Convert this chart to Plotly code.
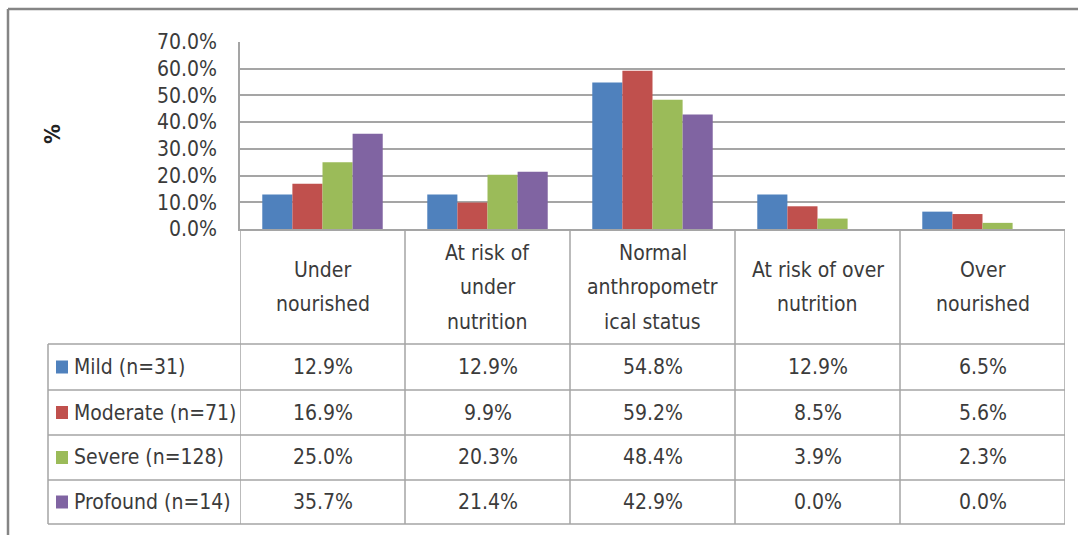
import plotly.graph_objects as go

# Nutritional status by severity group (percent of each group)
categories = ["Under nourished", "At risk of under nutrition", "Normal anthropometrical status",
              "At risk of over nutrition", "Over nourished"]
header_lines = [["Under", "nourished"], ["At risk of", "under", "nutrition"],
                ["Normal", "anthropometr", "ical status"], ["At risk of over", "nutrition"],
                ["Over", "nourished"]]
series_names = ["Mild (n=31)", "Moderate (n=71)", "Severe (n=128)", "Profound (n=14)"]
mild = [12.9, 12.9, 54.8, 12.9, 6.5]
moderate = [16.9, 9.9, 59.2, 8.5, 5.6]
severe = [25.0, 20.3, 48.4, 3.9, 2.3]
profound = [35.7, 21.4, 42.9, 0.0, 0.0]
series_values = [mild, moderate, severe, profound]
colors = ["#4F81BD", "#C0504D", "#9BBB59", "#8064A2"]
y_ticks = [0, 10, 20, 30, 40, 50, 60, 70]
y_tick_labels = [f"{v:.1f}%" for v in y_ticks]

W, H = 1078, 535
PL, PR, PT, PB = 240, 1065, 42, 229          # plot area in pixels
TABLE_LEFT = 48
ROW_LINES = [344, 390, 435, 480, 524]        # horizontal rules of the data table
HEADER_MID = (PB + ROW_LINES[0]) / 2 + 0.5
HEADER_LINE_STEP = 34.5

FONT = "Liberation Sans Narrow, Arial Narrow, DejaVu Sans Condensed, sans-serif"
FS = 21
TXT = "#3b3b3b"
GRID = "#A5A5A5"


def px(xp):
    return (xp - PL) / (PR - PL)


def py(yp):
    return (PB - yp) / (PB - PT)


fig = go.Figure()
for name, vals, col in zip(series_names, series_values, colors):
    fig.add_trace(go.Bar(x=categories, y=vals, name=name, marker=dict(color=col, line=dict(width=0))))

shapes = []
# outer chart frame (top and left edges)
shapes.append(dict(type="line", xref="paper", yref="paper", x0=px(8), x1=px(1080), y0=py(9), y1=py(9),
                   line=dict(color="#858585", width=2.5)))
shapes.append(dict(type="line", xref="paper", yref="paper", x0=px(8), x1=px(8), y0=py(9), y1=py(540),
                   line=dict(color="#858585", width=2.5)))
# vertical table rules at category boundaries
for i in range(len(categories) + 1):
    shapes.append(dict(type="line", xref="x", yref="paper", x0=i - 0.5, x1=i - 0.5,
                       y0=py(PB), y1=py(ROW_LINES[-1]), line=dict(color=GRID, width=1.5)))
# left edge of the legend column
shapes.append(dict(type="line", xref="paper", yref="paper", x0=px(TABLE_LEFT), x1=px(TABLE_LEFT),
                   y0=py(ROW_LINES[0]), y1=py(ROW_LINES[-1]), line=dict(color=GRID, width=1.5)))
# horizontal table rules
for r in ROW_LINES:
    shapes.append(dict(type="line", xref="paper", yref="paper", x0=px(TABLE_LEFT), x1=1,
                       y0=py(r), y1=py(r), line=dict(color=GRID, width=1.5)))

annotations = []
# header row with category names, one annotation per text line
for cat, lines in zip(categories, header_lines):
    n = len(lines)
    for j, line in enumerate(lines):
        yc = HEADER_MID + (j - (n - 1) / 2) * HEADER_LINE_STEP
        annotations.append(dict(x=cat, xref="x", y=py(yc), yref="paper", text=line, showarrow=False,
                                xanchor="center", yanchor="middle",
                                font=dict(family=FONT, size=FS, color=TXT)))
# data rows with legend keys
for k, (name, vals, col) in enumerate(zip(series_names, series_values, colors)):
    yc = (ROW_LINES[k] + ROW_LINES[k + 1]) / 2
    shapes.append(dict(type="rect", xref="paper", yref="paper", x0=px(56), x1=px(68),
                       y0=py(yc - 6.5), y1=py(yc + 6.5), fillcolor=col, line=dict(width=0)))
    annotations.append(dict(x=px(72), xref="paper", y=py(yc), yref="paper", text=name, showarrow=False,
                            xanchor="left", yanchor="middle", font=dict(family=FONT, size=FS, color=TXT)))
    for cat, v in zip(categories, vals):
        annotations.append(dict(x=cat, xref="x", y=py(yc), yref="paper", text=f"{v:.1f}%", showarrow=False,
                                xanchor="center", yanchor="middle", font=dict(family=FONT, size=FS, color=TXT)))
# vertical axis title
annotations.append(dict(x=px(52), xref="paper", y=py(134), yref="paper", text="<b>%</b>", showarrow=False,
                        textangle=-90, xanchor="center", yanchor="middle",
                        font=dict(family=FONT, size=22, color="#222222")))

fig.update_layout(
    width=W, height=H,
    margin=dict(l=PL, r=W - PR, t=PT, b=H - PB, pad=0),
    paper_bgcolor="white", plot_bgcolor="white",
    barmode="group", bargap=0.27, bargroupgap=0,
    showlegend=False,
    font=dict(family=FONT, size=FS, color=TXT),
    shapes=shapes, annotations=annotations,
    xaxis=dict(showticklabels=False, ticks="", showgrid=False, showline=True, linecolor=GRID, linewidth=1.5,
               zeroline=False, range=[-0.5, len(categories) - 0.5], fixedrange=True),
    yaxis=dict(range=[0, 70], tickmode="array", tickvals=y_ticks, ticktext=y_tick_labels, showgrid=True,
               gridcolor=GRID, gridwidth=1.5, showline=True, linecolor=GRID, linewidth=1.5,
               zeroline=False, ticks="", ticklabelstandoff=17,
               tickfont=dict(family=FONT, size=FS, color=TXT), fixedrange=True),
)

fig.write_html("out.html", config={"displayModeBar": False})
